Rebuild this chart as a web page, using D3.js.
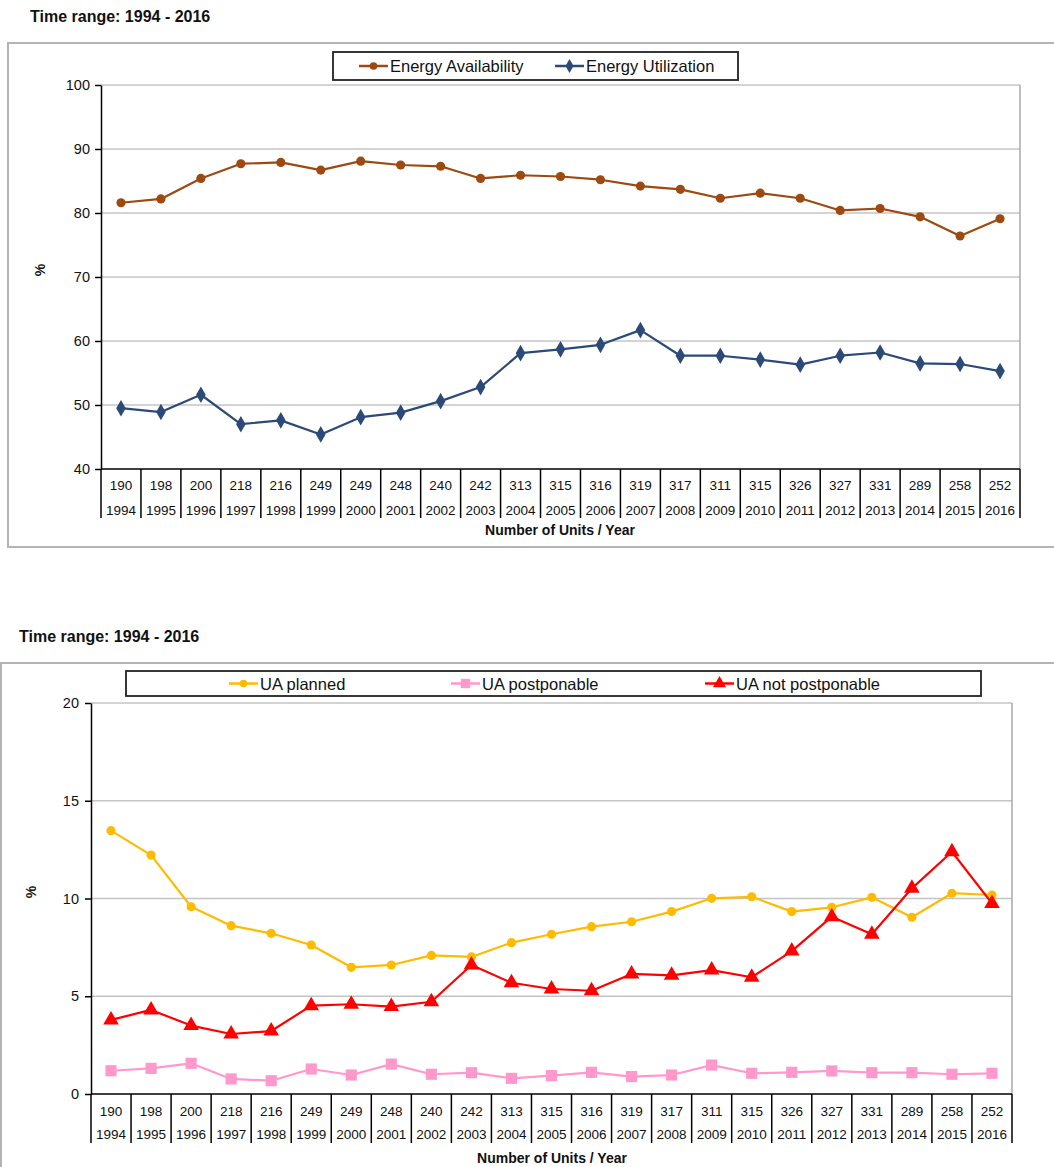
<!DOCTYPE html>
<html>
<head>
<meta charset="utf-8">
<script src="https://cdn.jsdelivr.net/npm/d3@7"></script>
<style>
  html, body { margin: 0; padding: 0; background: #fff; }
  svg { display: block; font-family: "Liberation Sans", Arial, sans-serif; }
</style>
</head>
<body>
<svg id="chart" width="1054" height="1167"></svg>
<script>
// Years and fleet size (number of units reporting) per year
const years = ["1994","1995","1996","1997","1998","1999","2000","2001","2002","2003","2004","2005",
               "2006","2007","2008","2009","2010","2011","2012","2013","2014","2015","2016"];
const units = [190,198,200,218,216,249,249,248,240,242,313,315,316,319,317,311,315,326,327,331,289,258,252];

// Energy availability / utilization factors, %
const energyAvailability = [81.6,82.2,85.4,87.7,87.9,86.7,88.1,87.5,87.3,85.4,85.9,85.7,85.2,84.2,83.7,
                            82.3,83.1,82.3,80.4,80.7,79.4,76.4,79.1];
const energyUtilization  = [49.5,48.9,51.6,47.0,47.6,45.4,48.1,48.8,50.6,52.8,58.1,58.7,59.4,61.7,57.7,
                            57.7,57.1,56.3,57.7,58.2,56.5,56.4,55.3];

// Unavailability split, %
const uaPlanned          = [13.47,12.22,9.58,8.61,8.22,7.62,6.48,6.60,7.09,7.01,7.74,8.17,8.56,8.81,9.33,
                            10.01,10.09,9.33,9.55,10.06,9.04,10.27,10.18];
const uaPostponable      = [1.19,1.31,1.57,0.77,0.68,1.28,0.97,1.53,1.01,1.09,0.80,0.94,1.11,0.89,0.97,
                            1.48,1.06,1.11,1.18,1.09,1.09,1.01,1.06];
const uaNotPostponable   = [3.79,4.30,3.50,3.07,3.22,4.52,4.59,4.47,4.72,6.60,5.69,5.37,5.28,6.14,6.07,
                            6.34,5.97,7.31,9.07,8.17,10.52,12.39,9.75];

const topTicks = [40,50,60,70,80,90,100];
const bottomTicks = [0,5,10,15,20];
const titleText = "Time range: 1994 - 2016";
const axisTitle = "Number of Units / Year";

const svg = d3.select("#chart");
const FONT = "\"Liberation Sans\", Arial, sans-serif";

function drawChart(cfg) {
  const g = svg.append("g");

  // outer frame of the panel
  if (cfg.frame) {
    g.append("path")
      .attr("d", cfg.frame.path)
      .attr("fill", "none").attr("stroke", "#b4b4b4").attr("stroke-width", 2);
  }

  // panel title
  g.append("text")
    .attr("x", cfg.titleX).attr("y", cfg.titleY)
    .attr("font-size", 16).attr("font-weight", "bold").attr("fill", "#111")
    .text(titleText);

  const x = d3.scaleBand().domain(years).range([cfg.left, cfg.right]).paddingInner(0).paddingOuter(0);
  const y = d3.scaleLinear().domain(cfg.yDomain).range([cfg.bottom, cfg.top]);
  const cx = d => x(d) + x.bandwidth() / 2;

  // horizontal gridlines
  g.append("g").selectAll("line").data(cfg.ticks.filter(t => t !== cfg.yDomain[0]))
    .join("line")
    .attr("x1", cfg.left).attr("x2", cfg.right)
    .attr("y1", d => y(d)).attr("y2", d => y(d))
    .attr("stroke", "#c4c4c4").attr("stroke-width", 1.5);

  // right border of the plot area
  g.append("line")
    .attr("x1", cfg.right).attr("x2", cfg.right)
    .attr("y1", cfg.top).attr("y2", cfg.bottom)
    .attr("stroke", "#a8a8a8").attr("stroke-width", 1.5);

  // y axis
  const yAxis = g.append("g")
    .attr("transform", `translate(${cfg.left},0)`)
    .call(d3.axisLeft(y).tickValues(cfg.ticks).tickSize(6).tickPadding(cfg.tickPad).tickSizeOuter(0));
  yAxis.select(".domain").attr("stroke", "#000").attr("stroke-width", 1.5);
  yAxis.selectAll(".tick line").attr("stroke", "#000").attr("stroke-width", 1.5);
  yAxis.selectAll(".tick text")
    .attr("font-family", FONT).attr("font-size", 14.5).attr("fill", "#111");

  // y axis title
  g.append("text")
    .attr("transform", `translate(${cfg.pctX},${cfg.pctY}) rotate(-90)`)
    .attr("text-anchor", "middle").attr("dominant-baseline", "central")
    .attr("font-size", 14).attr("font-weight", "bold").attr("fill", "#111")
    .text("%");

  // category table under the plot: units row and year row
  g.append("line")
    .attr("x1", cfg.left).attr("x2", cfg.right)
    .attr("y1", cfg.bottom).attr("y2", cfg.bottom)
    .attr("stroke", "#000").attr("stroke-width", 1.5);
  const edges = years.map(d => x(d)).concat([cfg.right]);
  g.append("g").selectAll("line").data(edges).join("line")
    .attr("x1", d => d).attr("x2", d => d)
    .attr("y1", cfg.bottom).attr("y2", cfg.tableBottom)
    .attr("stroke", "#000").attr("stroke-width", 1.5);
  g.append("g").selectAll("text").data(years).join("text")
    .attr("x", d => cx(d)).attr("y", cfg.row1Y)
    .attr("text-anchor", "middle").attr("dominant-baseline", "central")
    .attr("font-size", 13.5).attr("fill", "#111")
    .text((d, i) => units[i]);
  g.append("g").selectAll("text").data(years).join("text")
    .attr("x", d => cx(d)).attr("y", cfg.row2Y)
    .attr("text-anchor", "middle").attr("dominant-baseline", "central")
    .attr("font-size", 13.5).attr("fill", "#111")
    .text(d => d);
  g.append("text")
    .attr("x", cfg.axisTitleX).attr("y", cfg.axisTitleY)
    .attr("text-anchor", "middle").attr("dominant-baseline", "central")
    .attr("font-size", 14).attr("font-weight", "bold").attr("fill", "#111")
    .text(axisTitle);

  // series
  const line = d3.line().x((d, i) => cx(years[i])).y(d => y(d));
  cfg.series.forEach(s => {
    g.append("path").datum(s.values)
      .attr("d", line)
      .attr("fill", "none").attr("stroke", s.color).attr("stroke-width", 2.2)
      .attr("stroke-linejoin", "round");
    g.append("g").selectAll("path").data(s.values).join("path")
      .attr("transform", (d, i) => `translate(${cx(years[i])},${y(d)})`)
      .attr("d", d3.symbol().type(s.symbol).size(s.size))
      .attr("fill", s.color);
  });

  // legend
  const L = cfg.legend;
  g.append("rect")
    .attr("x", L.x).attr("y", L.y).attr("width", L.w).attr("height", L.h)
    .attr("fill", "#fff").attr("stroke", "#222").attr("stroke-width", 1.8);
  cfg.series.forEach((s, i) => {
    const lx = L.items[i];
    const ly = L.y + L.h / 2;
    g.append("line")
      .attr("x1", lx).attr("x2", lx + 29).attr("y1", ly).attr("y2", ly)
      .attr("stroke", s.color).attr("stroke-width", 2.5);
    g.append("path")
      .attr("transform", `translate(${lx + 14.5},${ly})`)
      .attr("d", d3.symbol().type(s.symbol).size(s.size * 0.7))
      .attr("fill", s.color);
    g.append("text")
      .attr("x", lx + 31).attr("y", ly)
      .attr("dominant-baseline", "central")
      .attr("font-size", 16.5).attr("fill", "#111")
      .text(s.name);
  });
}

// Panel 1: energy availability and utilization
drawChart({
  frame: { path: "M1060,43 H8 V547 H1060" },
  titleX: 30, titleY: 22,
  left: 101, right: 1020, top: 85, bottom: 469,
  yDomain: [40, 100], ticks: topTicks, tickPad: 5,
  pctX: 40, pctY: 270,
  tableBottom: 518, row1Y: 485, row2Y: 510,
  axisTitleX: 560, axisTitleY: 530,
  legend: { x: 333, y: 52, w: 405, h: 28, items: [359, 555] },
  series: [
    { name: "Energy Availability", values: energyAvailability, color: "#9C4A12", symbol: d3.symbolCircle, size: 66 },
    { name: "Energy Utilization",  values: energyUtilization,  color: "#2C4A78", symbol: d3.symbolDiamond, size: 80 }
  ]
});

// Panel 2: unavailability by category
drawChart({
  frame: { path: "M1060,663 H1 V1170" },
  titleX: 19, titleY: 642,
  left: 91, right: 1012, top: 703, bottom: 1094,
  yDomain: [0, 20], ticks: bottomTicks, tickPad: 6,
  pctX: 31, pctY: 892,
  tableBottom: 1143, row1Y: 1111, row2Y: 1134,
  axisTitleX: 552, axisTitleY: 1158,
  legend: { x: 126, y: 671, w: 855, h: 25, items: [229, 451, 705] },
  series: [
    { name: "UA planned",         values: uaPlanned,        color: "#FFBB00", symbol: d3.symbolCircle,   size: 66 },
    { name: "UA postponable",     values: uaPostponable,    color: "#FF99CC", symbol: d3.symbolSquare,   size: 125 },
    { name: "UA not postponable", values: uaNotPostponable, color: "#FF0000", symbol: d3.symbolTriangle, size: 105 }
  ]
});
</script>
</body>
</html>
